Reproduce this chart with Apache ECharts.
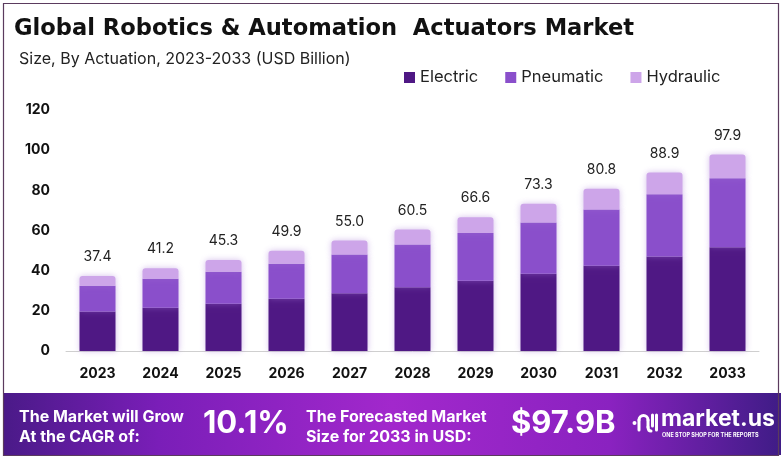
<!DOCTYPE html>
<html>
<head>
<meta charset="utf-8">
<script src="https://cdn.jsdelivr.net/npm/echarts@6/dist/echarts.min.js"></script>
<style>
html,body{margin:0;padding:0;background:#fff;}
#c{width:783px;height:459px;}
</style>
</head>
<body>
<div id="c"></div>
<script>
const years = ['2023','2024','2025','2026','2027','2028','2029','2030','2031','2032','2033'];
const electric  = [19.7, 21.5, 23.5, 26.0, 28.7, 31.7, 35.0, 38.5, 42.5, 47.0, 51.7];
const pneumatic = [12.8, 14.5, 16.0, 17.5, 19.3, 21.3, 23.7, 25.5, 28.0, 31.0, 34.3];
const hydraulic = [4.9, 5.2, 5.8, 6.4, 7.0, 7.5, 7.9, 9.3, 10.3, 10.9, 11.9];
const totals    = [37.4, 41.2, 45.3, 49.9, 55.0, 60.5, 66.6, 73.3, 80.8, 88.9, 97.9];
const yTicks = [0, 20, 40, 60, 80, 100, 120];

const FONT = 'Inter, "Open Sans", sans-serif';
const TFONT = '"DejaVu Sans", Inter, sans-serif';
const chart = echarts.init(document.getElementById('c'), null, {renderer: 'canvas'});

const shadow = {shadowColor: 'rgba(160,110,210,0.45)', shadowBlur: 6};
const logoStroke = {stroke: '#fff', lineWidth: 3, lineCap: 'round', fill: null};

chart.setOption({
  animation: false,
  backgroundColor: '#ffffff',
  textStyle: {fontFamily: FONT},
  grid: {left: 66, right: 24, top: 110, bottom: 108, containLabel: false},
  legend: {
    left: 399, top: 64,
    itemWidth: 11, itemHeight: 11, itemGap: 27,
    icon: 'rect',
    textStyle: {fontFamily: FONT, fontSize: 16.5, color: '#222'},
    data: ['Electric', 'Pneumatic', 'Hydraulic']
  },
  xAxis: {
    type: 'category',
    data: years,
    axisLine: {lineStyle: {color: '#cfcfcf', width: 1}},
    axisTick: {show: false},
    axisLabel: {fontFamily: FONT, fontSize: 14, fontWeight: 'bold', color: '#111', margin: 16}
  },
  yAxis: {
    type: 'value',
    min: yTicks[0], max: yTicks[yTicks.length - 1], interval: 20,
    splitLine: {show: false},
    axisLine: {show: false},
    axisTick: {show: false},
    axisLabel: {fontFamily: FONT, fontSize: 14, fontWeight: 'bold', color: '#111', margin: 16}
  },
  series: [
    {name: 'Electric', type: 'bar', stack: 't', barWidth: 36, data: electric,
     itemStyle: Object.assign({color: '#4f1884'}, shadow)},
    {name: 'Pneumatic', type: 'bar', stack: 't', barWidth: 36, data: pneumatic,
     itemStyle: Object.assign({color: '#8a4fcb'}, shadow)},
    {name: 'Hydraulic', type: 'bar', stack: 't', barWidth: 36, data: hydraulic,
     itemStyle: Object.assign({color: '#cda5e9', borderRadius: [3,3,0,0]}, shadow),
     label: {show: true, position: 'top', distance: 12, fontFamily: FONT, fontSize: 14, color: '#222',
       formatter: p => totals[p.dataIndex].toFixed(1)}}
  ],
  graphic: [
    {type: 'rect', shape: {x: 3.5, y: 3.5, width: 775, height: 452}, style: {fill: 'none', stroke: '#5b3b5e', lineWidth: 1.2}, z: 1},
    {type: 'text', left: 14, top: 18, style: {text: 'Global Robotics & Automation  Actuators Market', fontFamily: TFONT, fontSize: 22.6, fontWeight: 'bold', fill: '#111'}},
    {type: 'text', left: 19, top: 51, style: {text: 'Size, By Actuation, 2023-2033 (USD Billion)', fontFamily: FONT, fontSize: 16, fill: '#222'}},
    {type: 'rect', shape: {x: 3, y: 393, width: 778, height: 62},
     style: {fill: new echarts.graphic.LinearGradient(0, 0, 1, 0, [
       {offset: 0, color: '#4a1a88'}, {offset: 0.2, color: '#7a1eb8'}, {offset: 0.5, color: '#a228cc'},
       {offset: 0.78, color: '#8a22c0'}, {offset: 1, color: '#3f1c86'}])}},
    {type: 'text', left: 19, top: 407, style: {text: 'The Market will Grow\nAt the CAGR of:', fontFamily: FONT, fontSize: 16, fontWeight: 'bold', fill: '#fff', lineHeight: 20}},
    {type: 'text', left: 203, top: 408, style: {text: '10.1%', fontFamily: FONT, fontSize: 31, fontWeight: 'bold', fill: '#fff', shadowColor: 'rgba(0,0,0,0.35)', shadowBlur: 4}},
    {type: 'text', left: 306, top: 407, style: {text: 'The Forecasted Market\nSize for 2033 in USD:', fontFamily: FONT, fontSize: 16, fontWeight: 'bold', fill: '#fff', lineHeight: 20}},
    {type: 'text', left: 511, top: 408, style: {text: '$97.9B', fontFamily: FONT, fontSize: 31, fontWeight: 'bold', fill: '#fff', shadowColor: 'rgba(0,0,0,0.35)', shadowBlur: 4}},
    {type: 'circle', shape: {cx: 634.5, cy: 423, r: 2}, style: {fill: '#fff'}},
    {type: 'line', shape: {x1: 639, y1: 430, x2: 639, y2: 420}, style: logoStroke},
    {type: 'arc', shape: {cx: 643.5, cy: 420, r: 4.5, startAngle: Math.PI, endAngle: 2 * Math.PI, clockwise: true}, style: logoStroke},
    {type: 'line', shape: {x1: 648, y1: 420, x2: 648, y2: 427}, style: logoStroke},
    {type: 'bezierCurve', shape: {x1: 648, y1: 427, cpx1: 648, cpy1: 431, x2: 651, y2: 431}, style: logoStroke},
    {type: 'line', shape: {x1: 652.5, y1: 415, x2: 652.5, y2: 426}, style: logoStroke},
    {type: 'line', shape: {x1: 656.5, y1: 415, x2: 656.5, y2: 430}, style: logoStroke},
    {type: 'text', left: 661, top: 408, style: {text: 'market.us', fontFamily: FONT, fontSize: 23, fontWeight: 'bold', fill: '#fff'}},
    {type: 'text', left: 662, top: 432, style: {text: 'ONE STOP SHOP FOR THE REPORTS', fontFamily: FONT, fontSize: 5.5, fontWeight: 'bold', fill: '#fff'}}
  ]
});
</script>
</body>
</html>
